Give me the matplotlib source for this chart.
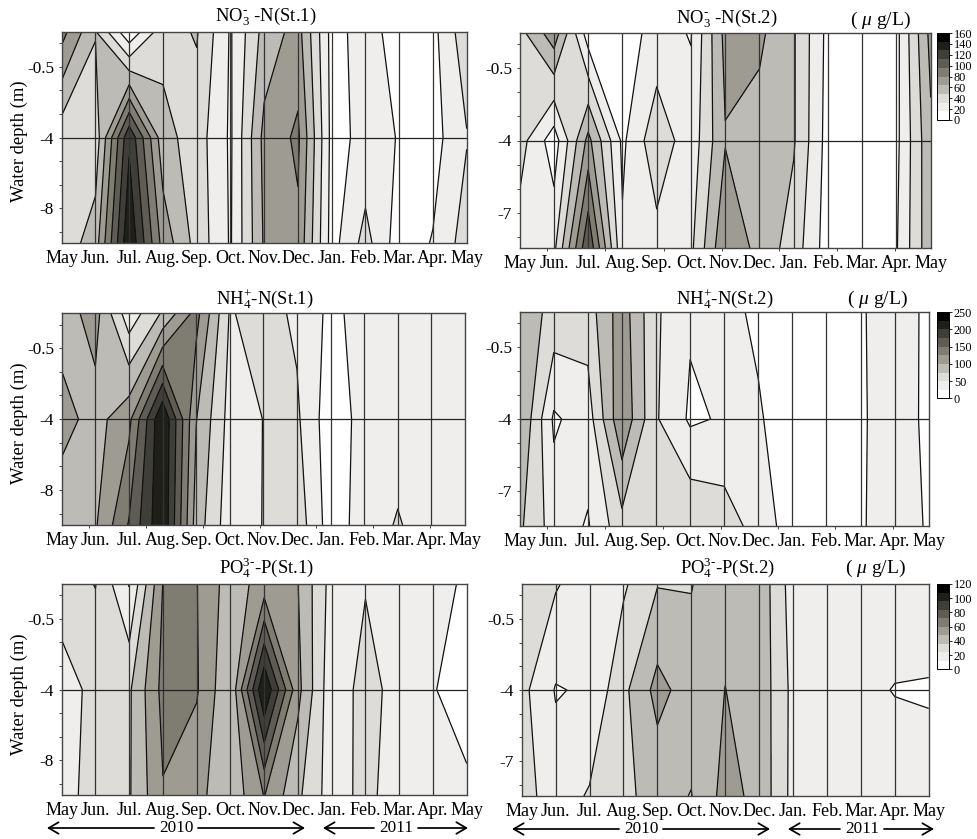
#!/usr/bin/env python3
# Seasonal depth contours of nutrients at two stations, May 2010 - May 2011.
import matplotlib; matplotlib.use("Agg")
import matplotlib.pyplot as plt
import numpy as np

plt.rcParams['font.family'] = ['Liberation Serif', 'DejaVu Serif']
plt.rcParams['mathtext.fontset'] = 'custom'
plt.rcParams['mathtext.rm'] = 'Liberation Serif'
plt.rcParams['mathtext.it'] = 'Liberation Serif:italic'
plt.rcParams['mathtext.bf'] = 'Liberation Serif:bold'

W, H = 977, 839

months = ["May", "Jun.", "Jul.", "Aug.", "Sep.", "Oct.", "Nov.", "Dec.",
          "Jan.", "Feb.", "Mar.", "Apr.", "May"]
# rows: surface, middle, bottom; columns: the 13 months
no3_st1 = [[86, 49, 3, 42, 49.4, 14.4, 54, 70.4, 10.4, 22.4, 9.3, 11.2, 43],
           [38, 38, 125, 54, 40, 13.6, 69, 83.2, 11, 20, 15.5, 9.6, 31],
           [38, 56, 142, 74, 42, 14.4, 66, 76.3, 9.6, 38, 7.4, 17, 40]]
no3_st2 = [[42.4, 73.6, 7.2, 9.6, 20.8, 15.2, 68.8, 67.2, 49.6, 11.2, 8, 11.2, 68.8],
           [39, 7.2, 68.8, 12.8, 43.2, 22, 62.9, 57.6, 49.6, 9.6, 8, 12, 60.8],
           [24, 27.8, 110, 18.6, 25.6, 28.5, 78.4, 58.4, 40.8, 8, 8, 14.7, 59.7]]
nh4_st1 = [[88, 110, 34, 78, 134, 48, 60, 45.5, 19, 34, 35, 35, 35],
           [110, 90, 118, 224, 101, 41, 50.25, 54, 10, 34, 36, 35, 35],
           [82, 97, 152, 222, 89, 35, 50.75, 65, 12.5, 35, 52.5, 35, 35]]
nh4_st2 = [[90, 67.5, 62.5, 113.75, 53.75, 28, 35, 18.75, 12.5, 12.5, 22.5, 37.5, 20],
           [101.25, 21.25, 37.5, 121, 52.5, 21.25, 27.5, 28.75, 5, 12.5, 22.5, 35, 20.75],
           [79.5, 38.5, 22.75, 66, 72.5, 72.5, 63.25, 39.5, 12.5, 12.5, 22.5, 37.5, 22.5]]
po4_st1 = [[30, 36.4, 11.4, 60.4, 60.4, 42, 52.8, 48.2, 19.2, 23.2, 18, 18, 9.4],
           [18.7, 27.4, 34.2, 63.6, 61.2, 37.2, 108, 51.6, 15.6, 28.8, 19.2, 13.2, 2.4],
           [18, 30.2, 34.8, 59.2, 51.6, 39.6, 60.5, 38.4, 18, 27.6, 17.3, 18, 16.1]]
po4_st2 = [[30, 25.2, 16.8, 22.2, 35.4, 35.4, 45.6, 44.4, 18, 18, 18, 18, 18],
           [27.6, 11.2, 13.6, 33, 52, 42, 48.1, 44.2, 20.6, 16.8, 14.4, 11.6, 11.2],
           [28.8, 18, 25.2, 33.6, 40, 35.6, 52.2, 44.6, 20.2, 18, 18, 18, 15.8]]

greys = ["#ffffff", "#f0eeec", "#dedcd8", "#bcbbb6", "#9e9b92",
         "#7f7c72", "#5e5c54", "#3f3e38", "#1f1f1a", "#000000"]
no3_levels = [0, 16, 32, 48, 64, 80, 96, 112, 128, 144, 160]
nh4_levels = [0, 25, 50, 75, 100, 125, 150, 175, 200, 225, 250]
po4_levels = [0, 12, 24, 36, 48, 60, 72, 84, 96, 108, 120]
no3_ticks = [0, 20, 40, 60, 80, 100, 120, 140, 160]
nh4_ticks = [0, 50, 100, 150, 200, 250]
po4_ticks = [0, 20, 40, 60, 80, 100, 120]

depth_ticks = [0.106, 0.33, 0.553, 0.776, 1, 1.224, 1.447, 1.67, 1.894]
extra_ticks = [0.8, 2.5, 4.2, 5.9, 7.57, 9.26, 10.96]


def px_rect(l, t, r, b):
    return [l / W, 1 - b / H, (r - l) / W, (b - t) / H]


def panel(fig, rect, z, levels, title, title_xy, labels, marks=False, left=False, ylab_y=None):
    ax = fig.add_axes(px_rect(*rect))
    x = np.arange(13)
    y = np.arange(3)
    cf = ax.contourf(x, y, z, levels=levels, colors=greys)
    ax.contour(x, y, z, levels=levels[1:-1], colors="#111111", linewidths=0.9)
    for m in x[1:-1]:
        ax.axvline(m, color="#333333", lw=0.9)
    ax.axhline(1, color="#222222", lw=0.9)
    ax.set_xlim(0, 12)
    ax.set_ylim(2, 0)
    ax.set_xticks(x)
    ax.set_xticklabels(months, fontsize=13)
    ax.tick_params(axis="x", which="major", length=0, pad=5)
    if marks:
        ax.set_xticks(extra_ticks, minor=True)
        ax.tick_params(axis="x", which="minor", length=2.5, width=0.7, color="#444444")
    ax.set_yticks(depth_ticks)
    ax.set_yticklabels(["" if t not in (0.33, 1, 1.67) else labels[(0.33, 1, 1.67).index(t)]
                        for t in depth_ticks], fontsize=12.4)
    ax.tick_params(axis="y", length=2.5, width=0.7, color="#444444", pad=3)
    for s in ax.spines.values():
        s.set_color("#444444")
        s.set_linewidth(1.0)
    fig.text(title_xy[0] / W, 1 - title_xy[1] / H, title, fontsize=13.4, ha="center", va="center")
    if left:
        fig.text(19 / W, 1 - ylab_y / H, "Water depth (m)", fontsize=13.4, rotation=90,
                 ha="center", va="center")
    return cf


def bar(fig, cf, rect, ticks):
    cax = fig.add_axes(px_rect(*rect))
    cb = fig.colorbar(cf, cax=cax, ticks=ticks)
    cb.ax.tick_params(labelsize=8.8, length=2, width=0.6, pad=1.5)
    cb.outline.set_linewidth(0.7)
    cb.ax.minorticks_off()


def span(fig, x0, x1, xm, y, label):
    # double arrow broken by the year in the middle
    gap = 22
    kw = dict(arrowstyle="->,head_width=0.32,head_length=0.55", color="black", lw=1.25,
              shrinkA=0, shrinkB=0, mutation_scale=13)
    tr = fig.transFigure
    for a, b in ((xm - gap, x0), (xm + gap, x1)):
        fig.add_artist(matplotlib.patches.FancyArrowPatch(
            (a / W, 1 - y / H), (b / W, 1 - y / H), transform=tr, **kw))
    fig.text(xm / W, 1 - y / H, label, fontsize=12.4, ha="center", va="center")


fig = plt.figure(figsize=(W / 100, H / 100), dpi=100)
left_labels = ["-0.5", "-4", "-8"]
right_labels = ["-0.5", "-4", "-7"]

panel(fig, (61.7, 31.7, 466.7, 243.3), no3_st1, no3_levels, r"NO$_3^{\text{-}}$ -N(St.1)",
      (266, 16), left_labels, left=True, ylab_y=141)
c1 = panel(fig, (519.7, 33, 930.7, 248), no3_st2, no3_levels, r"NO$_3^{\text{-}}$ -N(St.2)",
           (727, 18), right_labels, marks=True)
panel(fig, (61.7, 313.3, 465, 525), nh4_st1, nh4_levels, r"NH$_4^{+}$-N(St.1)",
      (265, 299), left_labels, marks=True, left=True, ylab_y=423)
c2 = panel(fig, (519.7, 312, 928.7, 526), nh4_st2, nh4_levels, r"NH$_4^{+}$-N(St.2)",
           (725, 299), right_labels, marks=True)
panel(fig, (61.7, 584, 466.7, 795), po4_st1, po4_levels, r"PO$_4^{3\text{-}}$-P(St.1)",
      (266, 568), left_labels, left=True, ylab_y=694)
c3 = panel(fig, (521.7, 584, 928.7, 796), po4_st2, po4_levels, r"PO$_4^{3\text{-}}$-P(St.2)",
           (727, 568), right_labels)

bar(fig, c1, (936.7, 33, 949, 120), no3_ticks)
bar(fig, c2, (937.3, 312.3, 949, 398.3), nh4_ticks)
bar(fig, c3, (937.3, 584, 949, 669.3), po4_ticks)

for ux, uy in ((880, 20), (877, 299), (875, 568)):
    fig.text(ux / W, 1 - uy / H, r"( $\mu$ g/L)", fontsize=14, ha="center", va="center")

span(fig, 47, 305, 176, 828, "2010")
span(fig, 323, 468, 396, 828, "2011")
span(fig, 512, 770, 641, 829, "2010")
span(fig, 788, 934, 862, 829, "2011")

fig.savefig("out.png", dpi=100)
